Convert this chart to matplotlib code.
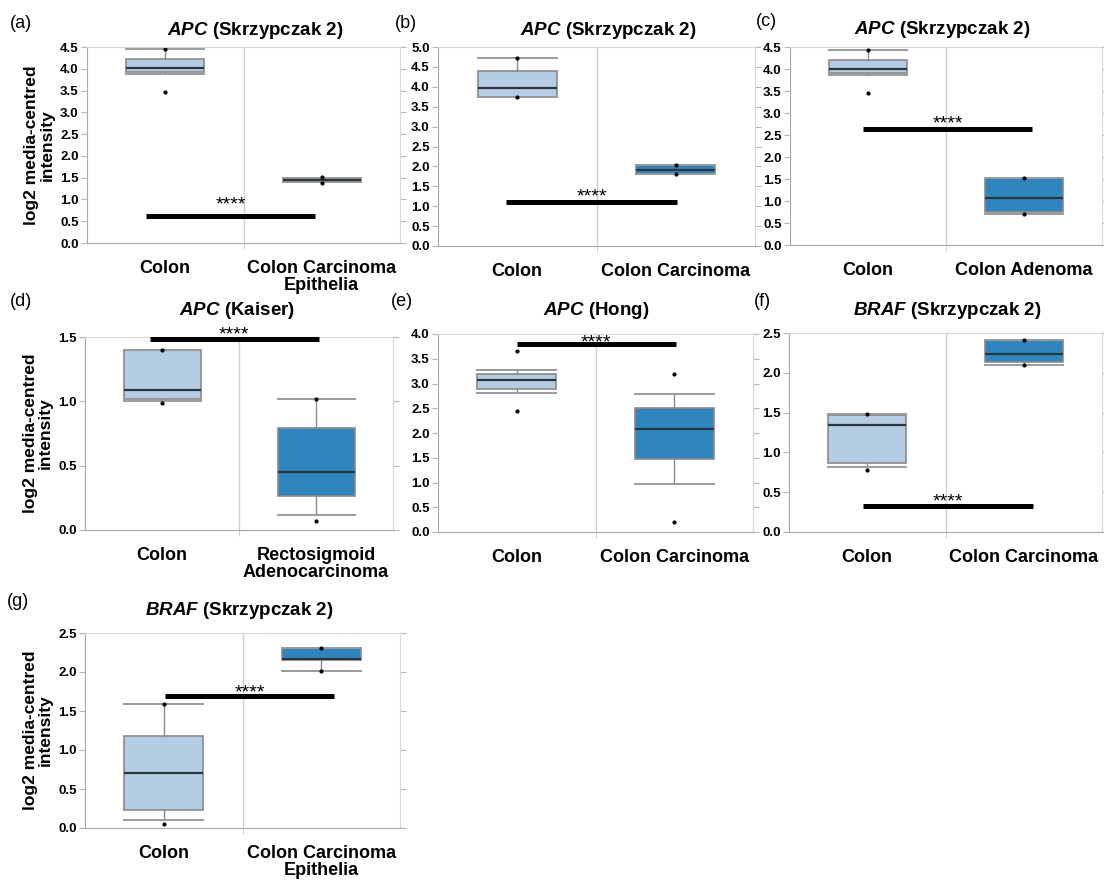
import numpy as np
import matplotlib
matplotlib.use('Agg')
import matplotlib.pyplot as plt

plt.rcParams['font.family'] = ['Liberation Sans', 'DejaVu Sans']
plt.rcParams['mathtext.fontset'] = 'custom'
plt.rcParams['mathtext.bf'] = 'Liberation Sans:bold'
plt.rcParams['mathtext.bfit'] = 'Liberation Sans:italic:bold'
plt.rcParams['mathtext.it'] = 'Liberation Sans:italic'

# panel info
panel_tags = ['(a)', '(b)', '(c)', '(d)', '(e)', '(f)', '(g)']
genes = ['APC', 'APC', 'APC', 'APC', 'APC', 'BRAF', 'BRAF']
datasets = ['Skrzypczak 2', 'Skrzypczak 2', 'Skrzypczak 2', 'Kaiser', 'Hong',
            'Skrzypczak 2', 'Skrzypczak 2']
normal_labels = ['Colon'] * 7
tumour_labels = ['Colon Carcinoma\nEpithelia', 'Colon Carcinoma', 'Colon Adenoma',
                 'Rectosigmoid\nAdenocarcinoma', 'Colon Carcinoma', 'Colon Carcinoma',
                 'Colon Carcinoma\nEpithelia']

# (min, 10th pct, q1, median, q3, 90th pct, max)
normal_stats = [
    (3.47, 3.88, 3.93, 4.02, 4.22, 4.45, 4.45),
    (3.75, 3.75, 3.75, 3.97, 4.40, 4.73, 4.73),
    (3.46, 3.86, 3.90, 4.01, 4.20, 4.44, 4.44),
    (0.99, 1.00, 1.02, 1.09, 1.40, 1.40, 1.40),
    (2.45, 2.81, 2.89, 3.08, 3.19, 3.28, 3.65),
    (0.78, 0.82, 0.87, 1.345, 1.47, 1.48, 1.48),
    (0.055, 0.098, 0.226, 0.711, 1.18, 1.584, 1.584),
]
tumour_stats = [
    (1.37, 1.40, 1.41, 1.45, 1.49, 1.50, 1.52),
    (1.81, 1.81, 1.81, 1.92, 2.04, 2.04, 2.04),
    (0.70, 0.70, 0.76, 1.06, 1.53, 1.53, 1.53),
    (0.07, 0.12, 0.266, 0.447, 0.79, 1.016, 1.016),
    (0.20, 0.97, 1.47, 2.08, 2.50, 2.79, 3.20),
    (2.10, 2.10, 2.14, 2.235, 2.41, 2.41, 2.41),
    (2.01, 2.01, 2.16, 2.17, 2.31, 2.31, 2.31),
]
y_max = [4.5, 5.0, 4.5, 1.5, 4.0, 2.5, 2.5]

# significance bar: height, start, end (x in category units), star height
sig_y = [0.61, 1.11, 2.63, 1.487, 3.80, 0.328, 1.695]
sig_x0 = [-0.12, -0.07, -0.03, -0.08, 0.0, -0.03, 0.01]
sig_x1 = [0.96, 1.01, 1.05, 1.02, 1.01, 1.06, 1.08]
star_y = [0.99, 1.36, 2.87, 1.56, 3.93, 0.44, 1.80]
sig_text = ['****'] * 7

# axes boxes in pixels: left, right, top, bottom
W, H = 1104, 886
ax_px = [(87, 400, 47, 243), (438, 755, 47, 246), (790, 1102, 47, 245),
         (85, 393, 337, 530), (438, 753, 334, 532), (789, 1102, 333, 532),
         (85, 400, 633, 828)]
tag_px = [(21, 23), (406, 23), (766, 21), (21, 301), (402, 301), (762, 301), (18, 601)]
title_dx = [12, 12, -4, -2, 1, 2, -3]
title_pad = [8.5, 8.5, 9.5, 15.5, 13.5, 13, 13]

light_blue = '#b5cde4'
dark_blue = '#2f86be'

fig = plt.figure(figsize=(W / 100, H / 100), dpi=100)

for i in range(7):
    l, r, t, b = ax_px[i]
    ax = fig.add_axes([l / W, 1 - b / H, (r - l) / W, (b - t) / H])

    stats = []
    for s in (normal_stats[i], tumour_stats[i]):
        stats.append(dict(whislo=s[1], q1=s[2], med=s[3], q3=s[4], whishi=s[5],
                          fliers=[s[0], s[6]]))
    bp = ax.bxp(stats, positions=[0, 1], widths=0.5, capwidths=0.5,
                patch_artist=True, showfliers=True,
                boxprops=dict(edgecolor='#8a8a8a', linewidth=1.2),
                medianprops=dict(color='#2a3540', linewidth=1.6),
                whiskerprops=dict(color='#8a8a8a', linewidth=1.0),
                capprops=dict(color='#9a9a9a', linewidth=1.4),
                flierprops=dict(marker='o', markersize=2.0, markerfacecolor='black',
                                markeredgecolor='black', linestyle='none'))
    bp['boxes'][0].set_facecolor(light_blue)
    bp['boxes'][1].set_facecolor(dark_blue)
    for ln in bp['medians']:
        ln.set_zorder(3)

    ax.set_xlim(-0.5, 1.5)
    ax.set_ylim(0, y_max[i])
    ax.axvline(0.5, color='#cfcfcf', linewidth=1.0, zorder=0)

    ax.set_xticks([0, 1])
    ax.set_xticklabels([normal_labels[i], tumour_labels[i]], fontsize=13,
                       fontweight='bold', linespacing=1.05)
    ax.set_xticks([0.5], minor=True)
    ax.tick_params(axis='x', which='major', length=0, pad=12)
    ax.tick_params(axis='x', which='minor', length=4, color='#c8c8c8')
    yt = np.arange(0, y_max[i] + 0.01, 0.5)
    ax.set_yticks(yt)
    ax.set_yticklabels(['%.1f' % v for v in yt], fontsize=9.5, fontweight='bold')
    ax.tick_params(axis='y', length=4, color='#b5b5b5', right=True, pad=2)
    for side in ['top', 'right']:
        ax.spines[side].set_color('#d8d8d8')
    for side in ['left', 'bottom']:
        ax.spines[side].set_color('#a8a8a8')

    ax.set_title(r'$\mathbfit{%s}$ (%s)' % (genes[i], datasets[i]), fontsize=13.5,
                 fontweight='bold', pad=title_pad[i],
                 x=0.5 + title_dx[i] / (r - l))

    if i in (0, 3, 6):
        ax.set_ylabel('log2 media-centred\nintensity', fontsize=12.5,
                      fontweight='bold', labelpad=4, linespacing=1.0)

    ax.plot([sig_x0[i], sig_x1[i]], [sig_y[i], sig_y[i]], color='black',
            linewidth=3.6, solid_capstyle='butt', clip_on=False, zorder=4)
    ax.annotate(sig_text[i], xy=((sig_x0[i] + sig_x1[i]) / 2, star_y[i]),
                xytext=(0, -7), textcoords='offset points', ha='center', va='baseline',
                fontsize=14, annotation_clip=False)

    tx, ty = tag_px[i]
    fig.text(tx / W, 1 - ty / H, panel_tags[i], fontsize=13, ha='center', va='center')

fig.savefig('out.png', dpi=100)
